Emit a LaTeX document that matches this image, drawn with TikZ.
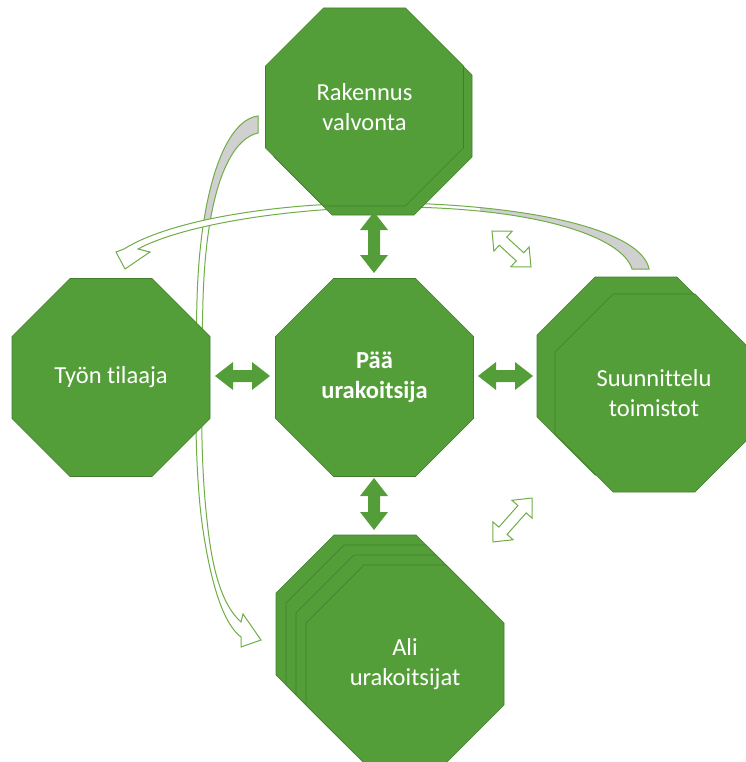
\documentclass[tikz,border=0pt]{standalone}
\usepackage{fontspec}
\setmainfont{Carlito}[Ligatures=NoCommon]
\usetikzlibrary{calc}

\definecolor{octgreen}{RGB}{84,158,57}
\definecolor{octedge}{RGB}{66,125,45}
\definecolor{linegreen}{RGB}{112,173,71}
\definecolor{backgray}{RGB}{208,208,208}

\tikzset{
  octa/.style={fill=octgreen, draw=octedge, line width=0.6pt},
  labeltext/.style={text=white, font=\fontsize{24.5}{29.5}\selectfont, align=center, inner sep=0pt},
  solidarrow/.style={fill=octgreen, draw=none},
  openarrow/.style={fill=white, draw=linegreen, line width=1pt, line join=miter},
  bandline/.style={draw=linegreen, line width=1pt, line join=miter},
}

% regular octagon, flat sides, 198pt across
\newcommand\octagonat[1]{%
  \draw[octa, shift={#1}] (-41,-99) -- (41,-99) -- (99,-41) -- (99,41)
    -- (41,99) -- (-41,99) -- (-99,41) -- (-99,-41) -- cycle;}

% straight double-headed block arrow between two named points
% #1 style, #2 from, #3 to, #4 shaft half width, #5 head half width, #6 head length
\newcommand\dblarrow[6]{%
  \path[#1] let \p1=(#2), \p2=(#3),
    \n1={atan2(\y2-\y1,\x2-\x1)}, \n2={veclen(\x2-\x1,\y2-\y1)} in
    [shift={(\p1)}, rotate=\n1]
    (0,0) -- (#6,#5) -- (#6,#4) -- ({\n2-#6},#4) -- ({\n2-#6},#5) -- (\n2,0)
    -- ({\n2-#6},-#5) -- ({\n2-#6},-#4) -- (#6,-#4) -- (#6,-#5) -- cycle;}

% curved block arrow: design offices -> client
\def\bandA{(649,269) .. controls (642,232) and (540,206) .. (400,203)
  .. controls (280,201) and (170,220) .. (124,249) -- (116,252) -- (125,269)
  -- (150,252) -- (138,249) .. controls (180,226) and (285,207) .. (400,207)
  .. controls (535,208) and (622,236) .. (632,269) -- cycle}

% curved block arrow: supervision -> subcontractors
\def\bandB{(258,116) .. controls (225,120) and (200,190) .. (197,300)
  .. controls (195,380) and (194,470) .. (203,530)
  .. controls (212,590) and (225,625) .. (241,637) -- (241,647) -- (261,640)
  -- (243,614) -- (241,622) .. controls (222,605) and (212,570) .. (207,520)
  .. controls (200,460) and (201,380) .. (203,300)
  .. controls (206,195) and (228,140) .. (258,133) -- cycle}

\begin{document}
\begin{tikzpicture}[x=1pt, y=-1pt]
  \useasboundingbox (0,0) rectangle (745,762);

  % curved arrows behind the octagons
  \begin{scope}
    \fill[white] \bandB;
    \clip (150,100) rectangle (270,222);
    \fill[backgray] \bandB;
  \end{scope}
  \draw[bandline] \bandB;

  \begin{scope}
    \fill[white] \bandA;
    \clip (480,150) rectangle (700,280);
    \fill[backgray] \bandA;
  \end{scope}
  \draw[bandline] \bandA;

  % Rakennus valvonta (two stacked)
  \octagonat{(373,116)}
  \octagonat{(364.5,107)}
  % Työn tilaaja
  \octagonat{(111,377.5)}
  % Pää urakoitsija
  \octagonat{(374.5,377.5)}
  % Suunnittelu toimistot (two stacked)
  \octagonat{(636,376)}
  \octagonat{(654,393)}
  % Ali urakoitsijat (four stacked)
  \octagonat{(375,634)}
  \octagonat{(385,644)}
  \octagonat{(395,654)}
  \octagonat{(405,664)}

  \node[labeltext] (rv) at (364.5,107) {Rakennus\\valvonta};
  \node[labeltext] (tt) at (111,377.5) {Työn tilaaja};
  \node[labeltext, font=\fontsize{24.5}{29.5}\selectfont\bfseries] (pu) at (374.5,377.5) {Pää\\urakoitsija};
  \node[labeltext] (st) at (654,393) {Suunnittelu\\toimistot};
  \node[labeltext] (au) at (405,664) {Ali\\urakoitsijat};

  % arrow end points
  \coordinate (up1) at (374,212);
  \coordinate (up2) at (374,273);
  \coordinate (dn1) at (374,478);
  \coordinate (dn2) at (374,530);
  \coordinate (lf1) at (215,376);
  \coordinate (lf2) at (270,376);
  \coordinate (rt1) at (478,376);
  \coordinate (rt2) at (533,376);
  \coordinate (du1) at (492,231);
  \coordinate (du2) at (531,267);
  \coordinate (dl1) at (493,542);
  \coordinate (dl2) at (532,498);

  \dblarrow{solidarrow}{up1}{up2}{6}{14}{18}
  \dblarrow{solidarrow}{dn1}{dn2}{6}{14}{18}
  \dblarrow{solidarrow}{lf1}{lf2}{6}{14}{18}
  \dblarrow{solidarrow}{rt1}{rt2}{6}{14}{18}
  \dblarrow{openarrow}{du1}{du2}{5.5}{13.5}{15}
  \dblarrow{openarrow}{dl1}{dl2}{5.5}{13.5}{15}
\end{tikzpicture}
\end{document}
